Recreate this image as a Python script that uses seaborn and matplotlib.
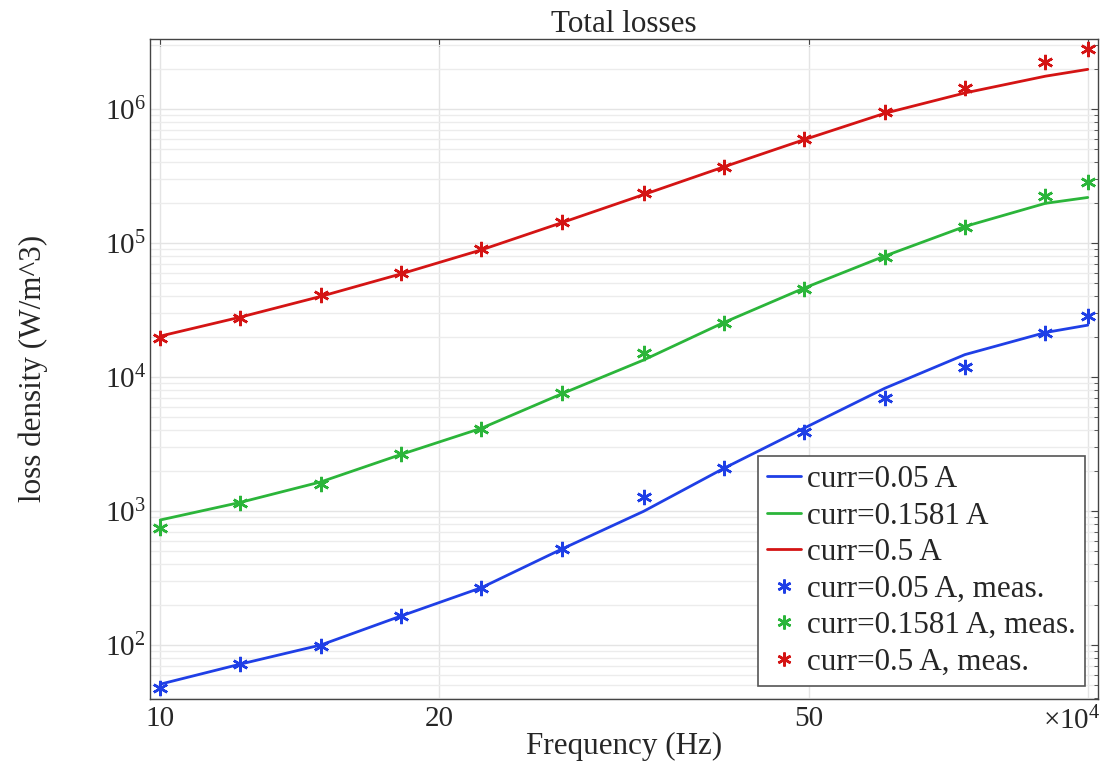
import matplotlib
matplotlib.use("Agg")
import matplotlib.pyplot as plt
from matplotlib.lines import Line2D
from matplotlib.ticker import FixedLocator, LogLocator, NullFormatter, LogFormatterSciNotation
import seaborn as sns
import numpy as np
import pandas as pd

# frequency (x10^4 Hz)
freq = [10, 12.2, 14.9, 18.2, 22.2, 27.1, 33.2, 40.5, 49.4, 60.4, 73.7, 90.0, 100]

# simulated loss density (W/m^3)
sim_005 = [51, 72, 100, 165, 268, 520, 995, 2080, 4140, 8240, 14700, 21500, 24400]
sim_01581 = [857, 1160, 1650, 2650, 4150, 7500, 13400, 25500, 46000, 80000, 133000, 198000, 219000]
sim_05 = [20200, 28000, 40000, 59000, 89000, 142000, 230000, 370000, 590000, 930000, 1320000, 1760000, 1980000]

# measured loss density (W/m^3)
meas_005 = [47.5, 71.8, 99, 165, 265, 520, 1280, 2080, 3870, 6940, 11900, 21500, 28500]
meas_01581 = [750, 1140, 1580, 2660, 4070, 7560, 15000, 25400, 45100, 79000, 132000, 224000, 287000]
meas_05 = [19600, 27700, 40900, 59400, 89700, 144000, 235000, 371000, 594000, 944000, 1430000, 2230000, 2790000]

sim_labels = ["curr=0.05 A", "curr=0.1581 A", "curr=0.5 A"]
meas_labels = ["curr=0.05 A, meas.", "curr=0.1581 A, meas.", "curr=0.5 A, meas."]
colors = ["#1f3fe6", "#2bb53a", "#d41414"]

sim = pd.DataFrame({
    "freq": freq * 3,
    "loss": sim_005 + sim_01581 + sim_05,
    "series": np.repeat(sim_labels, len(freq)),
})
meas = pd.DataFrame({
    "freq": freq * 3,
    "loss": meas_005 + meas_01581 + meas_05,
    "series": np.repeat(meas_labels, len(freq)),
})

sns.set_style("white")
plt.rcParams["font.family"] = ["Liberation Serif", "DejaVu Serif"]
plt.rcParams["mathtext.fontset"] = "custom"
plt.rcParams["mathtext.rm"] = "Liberation Serif"
plt.rcParams["mathtext.it"] = "Liberation Serif:italic"

fig = plt.figure(figsize=(11.19, 7.64), dpi=100)
ax = fig.add_axes([0.134, 0.085, 0.847, 0.8645])

ast = (6, 2, 0)
sns.lineplot(data=sim, x="freq", y="loss", hue="series", hue_order=sim_labels,
             palette=colors, linewidth=2, legend=False, ax=ax, sort=False)
n_sim = len(ax.lines)
sns.lineplot(data=meas, x="freq", y="loss", hue="series", hue_order=meas_labels,
             palette=colors, linestyle="", marker=ast, markersize=11,
             markeredgewidth=1.8, legend=False, ax=ax, sort=False)
# asterisks are line-art markers: colour their edges like the series
for ln in ax.lines[n_sim:]:
    ln.set_markeredgecolor(ln.get_color())

ax.set_xscale("log")
ax.set_yscale("log")
ax.set_xlim(9.75, 102.5)
ax.set_ylim(39.5, 3.36e6)

ax.xaxis.set_major_locator(FixedLocator([10, 20, 50, 100]))
ax.set_xticklabels(["10", "20", "50", ""])
ax.xaxis.set_minor_locator(FixedLocator([]))
ax.yaxis.set_major_locator(LogLocator(base=10))
ax.yaxis.set_major_formatter(LogFormatterSciNotation())
ax.yaxis.set_minor_locator(LogLocator(base=10, subs=np.arange(2, 10)))
ax.yaxis.set_minor_formatter(NullFormatter())

ax.grid(True, which="major", color="#e4e4e4", linewidth=1)
ax.grid(True, which="minor", axis="y", color="#ececec", linewidth=1)

ax.tick_params(which="both", direction="in", top=True, right=True,
               color="#444444", labelsize=21)
ax.tick_params(axis="y", pad=3)
ax.tick_params(axis="x", pad=5)
ax.tick_params(which="major", length=5)
ax.tick_params(which="minor", length=3)
for s in ax.spines.values():
    s.set_color("#444444")
    s.set_linewidth(1)

ax.set_title("Total losses", fontsize=22.4, pad=5)
ax.set_xlabel("Frequency (Hz)", fontsize=22.4, labelpad=0)
ax.set_ylabel("loss density (W/m^3)", fontsize=22.4)
ax.yaxis.set_label_coords(-0.108, 0.5)
ax.text(1.003, -0.012, r"$\times10^4$", transform=ax.transAxes,
        ha="right", va="top", fontsize=21)

handles = [Line2D([], [], color=c, lw=2) for c in colors]
handles += [Line2D([], [], color=c, linestyle="", marker=ast, markersize=10,
                   markeredgewidth=1.8) for c in colors]
leg = ax.legend(handles, sim_labels + meas_labels, loc="lower right",
                bbox_to_anchor=(0.987, 0.02), fontsize=22.4, frameon=True,
                fancybox=False, framealpha=1, edgecolor="#555555",
                handlelength=1.1, handletextpad=0.2, labelspacing=0.24,
                borderpad=0.3, borderaxespad=0)
leg.get_frame().set_linewidth(1.2)

fig.savefig("out.png", dpi=100)
